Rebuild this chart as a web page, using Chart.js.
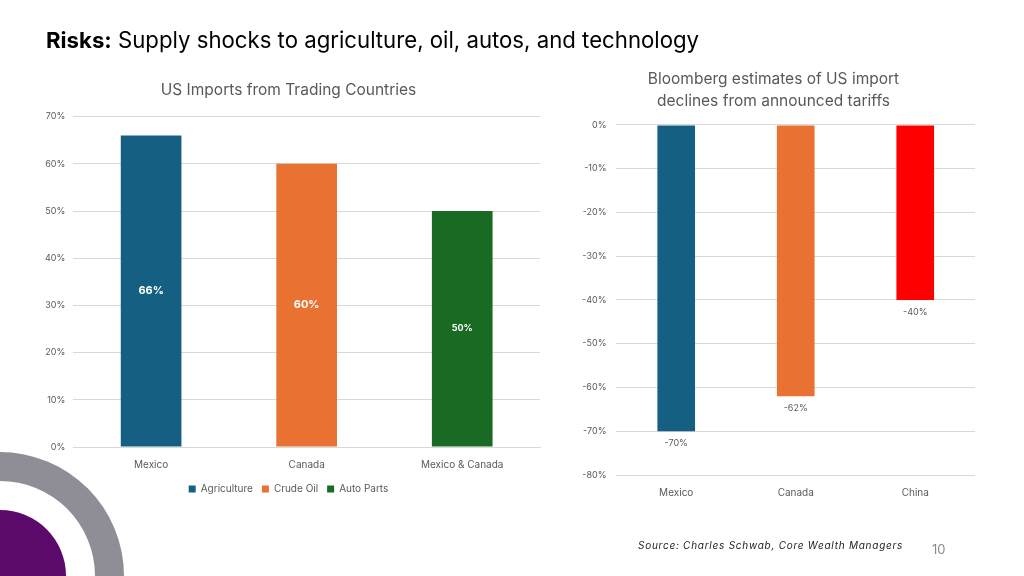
<!DOCTYPE html>
<html>
<head>
<meta charset="utf-8">
<script src="https://cdn.jsdelivr.net/npm/chart.js@4.4.1/dist/chart.umd.min.js"></script>
<style>
  html, body { margin: 0; padding: 0; background: #fff; }
  body { width: 1024px; height: 576px; position: relative; overflow: hidden; font-family: 'Inter', sans-serif; }
  #headline { position: absolute; left: 46px; top: 26px; font-size: 22.2px; color: #000; white-space: nowrap; }
  #headline b { font-weight: 700; }
  #leftBox { position: absolute; left: 37px; top: 70px; width: 514px; height: 440px; }
  #rightBox { position: absolute; left: 572px; top: 56px; width: 415px; height: 451px; }
  #source { position: absolute; left: 638px; top: 539px; font-size: 10px; font-style: italic; color: #222; letter-spacing: 0.75px; white-space: nowrap; }
  #pageNo { position: absolute; left: 932px; top: 541px; font-size: 13px; color: #8a8a8a; }
  #corner { position: absolute; left: 0; top: 0; }
</style>
</head>
<body>
<canvas id="corner" width="1024" height="576"></canvas>
<div id="headline"><b>Risks:</b> Supply shocks to agriculture, oil, autos, and technology</div>
<div id="leftBox"><canvas id="importsChart"></canvas></div>
<div id="rightBox"><canvas id="declinesChart"></canvas></div>
<div id="source">Source: Charles Schwab, Core Wealth Managers</div>
<div id="pageNo">10</div>
<script>
// Left chart: share of US imports
const importCountries = ['Mexico', 'Canada', 'Mexico & Canada'];
const agriculture = [66, null, null];
const crudeOil = [null, 60, null];
const autoParts = [null, null, 50];

// Right chart: Bloomberg estimated import declines
const declineCountries = ['Mexico', 'Canada', 'China'];
const declines = [-70, -62, -40];

const grey = '#595959';
const gridGrey = '#d9d9d9';

Chart.defaults.font.family = 'Inter';
Chart.defaults.color = grey;

// corner decoration
const cc = document.getElementById('corner').getContext('2d');
cc.fillStyle = '#8f8d96';
cc.beginPath();
cc.arc(0, 576, 124, 0, Math.PI * 2);
cc.arc(0, 576, 95, 0, Math.PI * 2, true);
cc.fill();
cc.fillStyle = '#5b0a6b';
cc.beginPath();
cc.arc(0, 576, 66, 0, Math.PI * 2);
cc.fill();

// value labels drawn at each bar
const barLabels = {
    id: 'barLabels',
    afterDatasetsDraw(chart, args, opts) {
        const ctx = chart.ctx;
        ctx.save();
        ctx.textAlign = 'center';
        ctx.textBaseline = 'middle';
        chart.data.datasets.forEach((ds, i) => {
            const meta = chart.getDatasetMeta(i);
            meta.data.forEach((bar, j) => {
                const v = ds.data[j];
                if (v == null) return;
                const size = opts.sizes ? opts.sizes[j] : opts.size;
                ctx.font = (opts.bold ? '700 ' : '') + size + 'px Inter';
                ctx.fillStyle = opts.color;
                let y;
                if (opts.inside) {
                    y = (bar.y + bar.base) / 2;
                } else {
                    y = bar.y + opts.offset;
                }
                ctx.fillText(v + '%', bar.x, y);
            });
        });
        ctx.restore();
    }
};

new Chart(document.getElementById('importsChart'), {
    type: 'bar',
    data: {
        labels: importCountries,
        datasets: [{
            label: 'Agriculture',
            data: agriculture,
            backgroundColor: '#156082'
        }, {
            label: 'Crude Oil',
            data: crudeOil,
            backgroundColor: '#e97132'
        }, {
            label: 'Auto Parts',
            data: autoParts,
            backgroundColor: '#196b24'
        }]
    },
    options: {
        responsive: true,
        maintainAspectRatio: false,
        animation: false,
        skipNull: true,
        categoryPercentage: 1,
        barPercentage: 0.39,
        layout: { padding: { top: 4, right: 11, bottom: 6 } },
        plugins: {
            title: {
                display: true,
                text: 'US Imports from Trading Countries',
                font: { size: 15.5, weight: 'normal' },
                color: grey,
                padding: { top: 7, bottom: 17 }
            },
            legend: {
                position: 'bottom',
                labels: { boxWidth: 7, boxHeight: 7, font: { size: 10 }, padding: 9 }
            },
            tooltip: { enabled: false },
            barLabels: { inside: true, bold: true, color: '#fff', sizes: [11, 11, 9] }
        },
        scales: {
            x: {
                grid: { display: false },
                border: { color: gridGrey },
                ticks: { font: { size: 10 }, padding: 4 }
            },
            y: {
                min: 0,
                max: 70,
                border: { display: false },
                grid: { color: gridGrey, drawTicks: false },
                ticks: { stepSize: 10, font: { size: 9 }, padding: 8, callback: v => v + '%' }
            }
        }
    },
    plugins: [barLabels]
});

new Chart(document.getElementById('declinesChart'), {
    type: 'bar',
    data: {
        labels: declineCountries,
        datasets: [{
            label: 'Import decline',
            data: declines,
            backgroundColor: ['#156082', '#e97132', '#ff0000']
        }]
    },
    options: {
        responsive: true,
        maintainAspectRatio: false,
        animation: false,
        categoryPercentage: 1,
        barPercentage: 0.315,
        layout: { padding: { top: 4, right: 12, bottom: 4 } },
        plugins: {
            title: {
                display: true,
                text: ['Bloomberg estimates of US import', 'declines from announced tariffs'],
                font: { size: 15.5, weight: 'normal', lineHeight: 1.45 },
                color: grey,
                padding: { top: 8, bottom: 12 }
            },
            legend: { display: false },
            tooltip: { enabled: false },
            barLabels: { inside: false, color: grey, size: 9, offset: 12 }
        },
        scales: {
            x: {
                position: 'bottom',
                grid: { display: false },
                border: { display: false },
                ticks: { font: { size: 10 }, padding: 4 }
            },
            y: {
                min: -80,
                max: 0,
                border: { display: false },
                grid: { color: gridGrey, drawTicks: false },
                ticks: { stepSize: 10, font: { size: 9 }, padding: 10, callback: v => v + '%' }
            }
        }
    },
    plugins: [barLabels]
});
</script>
</body>
</html>
